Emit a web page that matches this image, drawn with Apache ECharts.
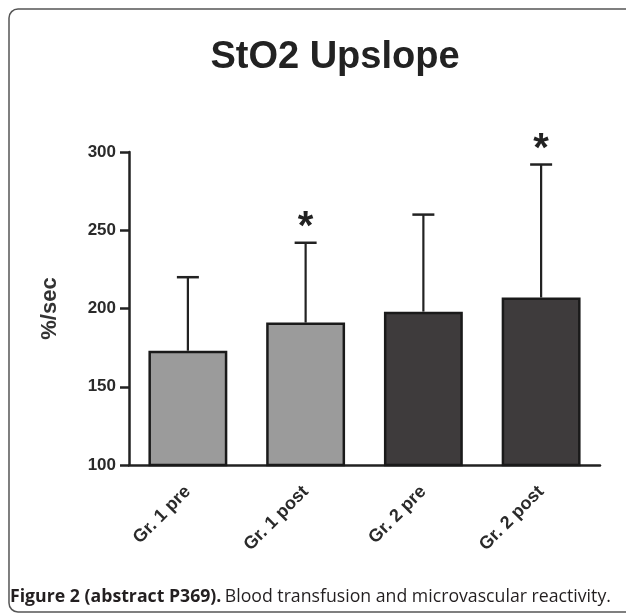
<!DOCTYPE html>
<html>
<head>
<meta charset="utf-8">
<script src="https://cdn.jsdelivr.net/npm/echarts@6/dist/echarts.min.js"></script>
<style>
  html, body { margin: 0; padding: 0; background: #fff; }
  #chart { width: 626px; height: 614px; }
</style>
</head>
<body>
<div id="chart"></div>
<script>
// StO2 upslope per group, mean with upper SD whisker
const categories = ['Gr. 1 pre', 'Gr. 1 post', 'Gr. 2 pre', 'Gr. 2 post'];
const means = [173, 191, 198, 207];
const upperErrors = [220, 242, 260, 292];
const significant = [false, true, false, true];
const barColors = ['#9b9b9b', '#9b9b9b', '#3e3b3c', '#3e3b3c'];
const yTicks = [100, 150, 200, 250, 300];

const chart = echarts.init(document.getElementById('chart'));

const barData = means.map((v, i) => ({
  value: v,
  itemStyle: { color: barColors[i] }
}));

const whiskerData = means.map((v, i) => [i, v, upperErrors[i], significant[i] ? 1 : 0]);

chart.setOption({
  animation: false,
  backgroundColor: '#ffffff',
  grid: { left: 129, right: 26, top: 152, bottom: 149, containLabel: false },
  xAxis: {
    type: 'category',
    data: categories,
    axisLine: { lineStyle: { color: '#222', width: 2.5 } },
    axisTick: { alignWithLabel: true, length: 8, lineStyle: { color: '#222', width: 2.5 } },
    axisLabel: {
      rotate: 45,
      margin: 24,
      color: '#2a2a2a',
      fontFamily: 'Liberation Sans, Arial, sans-serif',
      fontWeight: 'bold',
      fontSize: 18
    }
  },
  yAxis: {
    type: 'value',
    min: yTicks[0],
    max: yTicks[yTicks.length - 1],
    interval: 50,
    name: '%/sec',
    nameLocation: 'middle',
    nameGap: 68,
    nameRotate: 90,
    nameTextStyle: {
      color: '#333',
      fontFamily: 'Liberation Sans, Arial, sans-serif',
      fontWeight: 'bold',
      fontSize: 22
    },
    splitLine: { show: false },
    axisLine: { show: true, lineStyle: { color: '#222', width: 2.5 } },
    axisTick: { show: true, length: 9, lineStyle: { color: '#222', width: 2.5 } },
    axisLabel: {
      margin: 13,
      color: '#2a2a2a',
      fontFamily: 'Liberation Sans, Arial, sans-serif',
      fontWeight: 'bold',
      fontSize: 17
    }
  },
  series: [
    {
      type: 'bar',
      data: barData,
      barWidth: '67%',
      itemStyle: { borderColor: '#1a1a1a', borderWidth: 2.5 },
      z: 2
    },
    {
      type: 'custom',
      data: whiskerData,
      z: 1,
      renderItem: function (params, api) {
        const i = api.value(0);
        const base = api.coord([i, api.value(1)]);
        const top = api.coord([i, api.value(2)]);
        const cap = 11;
        const children = [
          { type: 'line', shape: { x1: base[0], y1: base[1], x2: top[0], y2: top[1] },
            style: { stroke: '#222', lineWidth: 2.2 } },
          { type: 'line', shape: { x1: top[0] - cap, y1: top[1], x2: top[0] + cap, y2: top[1] },
            style: { stroke: '#222', lineWidth: 2.5 } }
        ];
        if (api.value(3)) {
          children.push({
            type: 'text',
            x: top[0], y: top[1] + 5,
            style: {
              text: '*', fill: '#222',
              font: 'bold 40px Liberation Sans, Arial, sans-serif',
              align: 'center', verticalAlign: 'bottom'
            }
          });
        }
        return { type: 'group', children: children };
      }
    }
  ],
  graphic: [
    {
      type: 'rect',
      shape: { x: 9, y: 9, width: 640, height: 603, r: 9 },
      style: { fill: 'none', stroke: '#555', lineWidth: 1.5 },
      silent: true
    },
    {
      type: 'text',
      x: 335, y: 58,
      style: {
        text: 'StO2 Upslope',
        font: 'bold 38px Liberation Sans, Arial, sans-serif',
        fill: '#222',
        align: 'center', verticalAlign: 'middle'
      }
    },
    {
      type: 'text',
      x: 10, y: 597,
      style: {
        text: '{b|Figure 2 (abstract P369).} {r|Blood transfusion and microvascular reactivity.}',
        verticalAlign: 'middle',
        rich: {
          b: { font: 'bold 17.7px Open Sans, sans-serif', fill: '#231f20' },
          r: { font: '17.7px Open Sans, sans-serif', fill: '#231f20' }
        }
      }
    }
  ]
});
</script>
</body>
</html>
